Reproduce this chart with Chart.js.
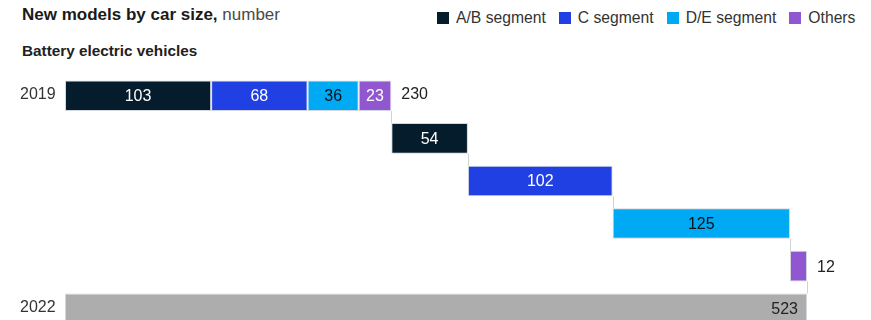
<!DOCTYPE html>
<html>
<head>
<meta charset="utf-8">
<script src="https://cdn.jsdelivr.net/npm/chart.js@4/dist/chart.umd.min.js"></script>
<style>
  body { margin: 0; width: 871px; height: 320px; overflow: hidden; background: #fff; position: relative;
         font-family: "Liberation Sans", Arial, sans-serif; color: #222; }
  #title { position: absolute; left: 22px; top: 5px; font-size: 17px; white-space: nowrap; }
  #title b { color: #1a1a1a; }
  #title span { color: #4a4a4a; }
  #sub { position: absolute; left: 22px; top: 42px; font-size: 15.3px; font-weight: bold; color: #222; white-space: nowrap; }
  #legend { position: absolute; left: 437px; top: 9px; width: 434px; display: flex; font-size: 15.7px; color: #333; white-space: nowrap; }
  #legend div { display: flex; align-items: center; margin-right: 13px; }
  #legend i { display: inline-block; width: 12px; height: 12px; margin-right: 7px; }
  #wrap { position: absolute; left: 0; top: 0; width: 871px; height: 340px; }
</style>
</head>
<body>
<div id="title"><b>New models by car size,</b> <span>number</span></div>
<div id="sub">Battery electric vehicles</div>
<div id="legend"></div>
<div id="wrap"><canvas id="chart"></canvas></div>
<script>
// datos
const categories = ['2019', '', '', '', '', '2022'];
const segments = ['A/B segment', 'C segment', 'D/E segment', 'Others'];
const segColors = ['#051c2c', '#2140e3', '#00a9f4', '#9057d0'];
const segTextColors = ['#ffffff', '#ffffff', '#111111', '#ffffff'];
const base2019 = [103, 68, 36, 23];
const added = [54, 102, 125, 12];
const total2022 = 523;
const totalColor = '#adadad';

// leyenda html
const legend = document.getElementById('legend');
segments.forEach((s, i) => {
  const d = document.createElement('div');
  d.innerHTML = `<i style="background:${segColors[i]}"></i>${s}`;
  legend.appendChild(d);
});

// construir barras flotantes
let run = 0;
const datasets = segments.map((name, i) => {
  const data = categories.map(() => null);
  data[0] = [run, run + base2019[i]];
  run += base2019[i];
  return { label: name, data, backgroundColor: segColors[i], textColor: segTextColors[i] };
});
const total2019 = run;
let step = total2019;
added.forEach((v, i) => {
  datasets[i].data[i + 1] = [step, step + v];
  step += v;
});
const totalData = categories.map(() => null);
totalData[categories.length - 1] = [0, total2022];
datasets.push({ label: 'Total', data: totalData, backgroundColor: totalColor, textColor: '#222' });
datasets.forEach(d => {
  d.borderColor = '#d3d7de';
  d.borderWidth = 1;
  d.borderSkipped = false;
  d.categoryPercentage = 1;
  d.barPercentage = 0.72;
});

const font = '16px "Liberation Sans", Arial, sans-serif';

// conectores y etiquetas
const waterfallPlugin = {
  id: 'waterfall',
  afterDatasetsDraw(chart) {
    const ctx = chart.ctx;
    const rows = categories.map(() => ({ end: -Infinity, top: 0, bottom: 0 }));
    chart.data.datasets.forEach((ds, di) => {
      chart.getDatasetMeta(di).data.forEach((el, j) => {
        if (!ds.data[j]) return;
        const p = el.getProps(['x', 'y', 'height'], true);
        const r = rows[j];
        if (p.x > r.end) { r.end = p.x; }
        r.top = p.y - p.height / 2;
        r.bottom = p.y + p.height / 2;
      });
    });
    ctx.save();
    ctx.strokeStyle = '#cfd2d6';
    ctx.lineWidth = 1;
    for (let j = 0; j < rows.length - 1; j++) {
      const x = Math.round(rows[j].end) + 0.5;
      ctx.beginPath();
      ctx.moveTo(x, rows[j].bottom);
      ctx.lineTo(x, rows[j + 1].top);
      ctx.stroke();
    }
    ctx.font = font;
    ctx.textBaseline = 'middle';
    chart.data.datasets.forEach((ds, di) => {
      chart.getDatasetMeta(di).data.forEach((el, j) => {
        const v = ds.data[j];
        if (!v) return;
        const p = el.getProps(['x', 'y', 'base'], true);
        const val = v[1] - v[0];
        const w = p.x - p.base;
        if (ds.label === 'Total') {
          ctx.fillStyle = ds.textColor;
          ctx.textAlign = 'right';
          ctx.fillText(val, p.x - 9, p.y + 1);
        } else if (w < 30 && j > 0) {
          ctx.fillStyle = '#222';
          ctx.textAlign = 'left';
          ctx.fillText(val, p.x + 10, p.y + 1);
        } else {
          ctx.fillStyle = ds.textColor;
          ctx.textAlign = 'center';
          ctx.fillText(val, (p.x + p.base) / 2, p.y + 1);
        }
      });
    });
    // total 2019
    ctx.fillStyle = '#222';
    ctx.textAlign = 'left';
    const y0 = chart.scales.y.getPixelForValue(0);
    ctx.fillText(total2019, rows[0].end + 10, y0 - 1);
    // categorias
    ctx.fillStyle = '#333';
    categories.forEach((c, j) => {
      if (!c) return;
      ctx.fillText(c, 20, chart.scales.y.getPixelForValue(j) - 1);
    });
    ctx.restore();
  }
};

new Chart(document.getElementById('chart'), {
  type: 'bar',
  data: { labels: categories, datasets },
  options: {
    indexAxis: 'y',
    responsive: true,
    maintainAspectRatio: false,
    animation: false,
    layout: { padding: { left: 65, right: 11.5, top: 74.5, bottom: 10 } },
    plugins: { legend: { display: false }, tooltip: { enabled: false } },
    scales: {
      x: { display: false, min: 0, max: 560 },
      y: { display: false, stacked: true }
    }
  },
  plugins: [waterfallPlugin]
});
</script>
</body>
</html>
